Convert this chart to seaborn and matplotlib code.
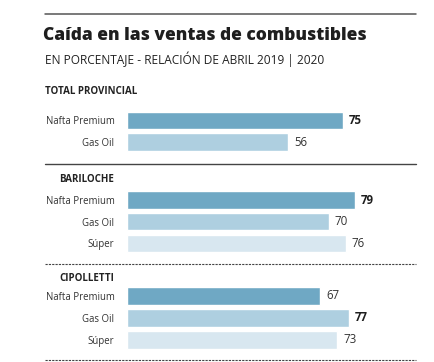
import matplotlib
matplotlib.use("Agg")
import matplotlib.pyplot as plt
from matplotlib.lines import Line2D
import seaborn as sns
import pandas as pd

sns.set_theme(style="white")
plt.rcParams['font.family'] = ['Open Sans', 'DejaVu Sans']

title = "Caída en las ventas de combustibles"
subtitle = "EN PORCENTAJE - RELACIÓN DE ABRIL 2019 | 2020"
groups = ["TOTAL PROVINCIAL", "BARILOCHE", "CIPOLLETTI"]
tp_fuels = ["Nafta Premium", "Gas Oil"]
tp_values = [75, 56]
bar_fuels = ["Nafta Premium", "Gas Oil", "Súper"]
bar_values = [79, 70, 76]
cip_fuels = ["Nafta Premium", "Gas Oil", "Súper"]
cip_values = [67, 77, 73]

palette = {"Nafta Premium": "#6fa8c4", "Gas Oil": "#aecfe0", "Súper": "#d8e7f0"}

W, H = 434, 362
fig = plt.figure(figsize=(W / 100, H / 100), dpi=100)
fig.patch.set_facecolor("white")

def fx(x):
    return x / W

def fy(y):
    return 1 - y / H

# header line and titles
fig.add_artist(Line2D([fx(45), fx(416)], [fy(14), fy(14)], color="#555555", lw=1.1))
fig.text(fx(43), fy(40.5), title, fontsize=12.5, fontweight="heavy", color="#1e1e1e", va="baseline")
fig.text(fx(45), fy(64), subtitle, fontsize=8.6, color="#222222", va="baseline")

# group layout: (header y, axes top, axes bottom, separator y, separator style)
layout = [
    (94, 109.7, 152.8, 164, "-"),
    (182.5, 189.2, 254.0, 264, (0, (2, 1))),
    (280.7, 285.0, 350.8, 360, (0, (2, 1))),
]
data = [(tp_fuels, tp_values), (bar_fuels, bar_values), (cip_fuels, cip_values)]

for k, (gname, (fuels, vals), (hy, top, bot, sep, ls)) in enumerate(zip(groups, data, layout)):
    if k == 0:
        fig.text(fx(45), fy(hy), gname, fontsize=7.0, fontweight="bold", color="#222222",
                 va="baseline")
    else:
        fig.text(fx(114), fy(hy), gname, fontsize=7.0, fontweight="bold", color="#222222",
                 ha="right", va="baseline")
    ax = fig.add_axes([fx(127), fy(bot), fx(415) - fx(127), (bot - top) / H])
    df = pd.DataFrame({"fuel": fuels, "value": vals})
    sns.barplot(data=df, y="fuel", x="value", hue="fuel", palette=palette, orient="h",
                width=0.8, legend=False, ax=ax, saturation=1)
    ax.set_xlim(0, 100)
    ax.set_ylim(len(fuels) - 0.5, -0.5)
    for s in ax.spines.values():
        s.set_visible(False)
    ax.set_xticks([])
    ax.set_xlabel("")
    ax.set_ylabel("")
    ax.tick_params(axis="y", length=0, pad=9, labelsize=6.9, labelcolor="#333333")
    vmax = max(vals)
    for i, v in enumerate(vals):
        bold = v == vmax
        ax.text(v + 2.1, i, str(v), va="center", ha="left",
                fontsize=8.3, fontweight="bold" if bold else "normal",
                color="#1e1e1e" if bold else "#333333")
    fig.add_artist(Line2D([fx(45), fx(416)], [fy(sep), fy(sep)], color="#444444",
                          lw=1.0 if ls == "-" else 0.8, linestyle=ls))

fig.savefig("out.png", dpi=100, facecolor="white")
